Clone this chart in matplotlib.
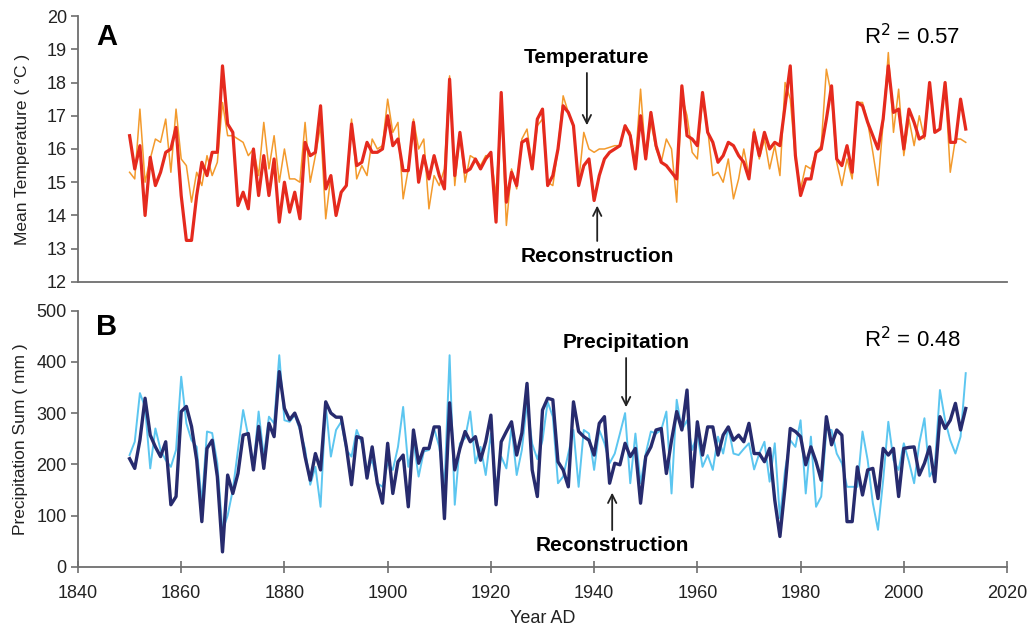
import numpy as np
import matplotlib.pyplot as plt

plt.rcParams['font.family'] = ['Liberation Sans', 'DejaVu Sans']

years = np.arange(1850, 2013)

# Panel A: mean temperature (thin) and tree-ring reconstruction (thick)
temp_obs = [
    15.3, 15.1, 17.2, 15.0, 15.7, 16.3, 16.2, 16.9, 15.3, 17.2,
    15.7, 15.5, 14.4, 15.3, 14.9, 15.8, 15.2, 15.6, 17.4, 16.4,
    16.4, 16.3, 16.2, 15.8, 16.0, 15.2, 16.8, 15.4, 16.4, 15.0,
    16.0, 15.1, 15.1, 15.0, 16.8,
    15.0, 15.8, 16.7, 13.9, 15.2, 14.0, 14.7, 14.9, 16.9, 15.1,
    15.5, 15.2, 16.3, 16.0, 16.1,
    17.5, 16.5, 16.8, 14.5, 15.4, 16.9, 16.0, 16.3, 14.2, 15.2,
    14.9, 15.4, 18.2, 14.9, 16.5, 15.0, 15.8, 15.7, 15.5, 15.8,
    15.8, 14.6, 17.4, 13.7, 15.4, 14.8, 16.3, 16.6, 15.5, 16.7,
    16.9, 15.0, 14.9, 16.0, 17.6, 17.1, 16.7, 15.0, 16.5, 16.0,
    15.9, 16.0, 16.0, 16.05, 16.1, 16.1, 16.7, 16.5, 15.6, 17.8,
    15.7, 16.8, 16.0, 15.6, 16.3, 16.0, 14.4, 17.6, 17.0, 15.9,
    15.7, 17.5, 16.6, 15.2, 15.3, 15.0, 15.7, 14.5, 15.1, 16.0,
    15.2, 16.6, 15.7, 16.3, 15.4, 16.1, 15.2, 18.0, 17.5, 15.7,
    14.8, 15.5, 15.4, 15.9, 16.1, 18.4, 17.6, 15.6, 14.9, 15.7,
    15.1, 17.4, 17.4, 16.8, 15.9, 14.9, 16.8, 18.9, 16.5, 17.8,
    15.8, 16.9, 16.1, 17.0, 16.3, 17.9, 16.5, 16.6, 18.0, 15.3,
    16.3, 16.3, 16.2,
]
temp_rec = [
    16.4, 15.4, 16.1, 14.0, 15.75, 14.9, 15.3, 15.9, 16.0, 16.65,
    14.6, 13.25, 13.25, 14.6, 15.6, 15.2, 15.9, 15.9, 18.5, 16.75,
    16.5, 14.3, 14.7, 14.2, 16.0, 14.6, 15.8, 14.6, 15.7, 13.8,
    15.0, 14.1, 14.7, 13.9, 16.2,
    15.8, 15.9, 17.3, 14.8, 15.2, 14.0, 14.7, 14.9, 16.75, 15.5,
    15.6, 16.2, 15.9, 15.9, 16.0,
    17.0, 16.1, 16.3, 15.35, 15.35, 16.8, 15.0, 15.8, 15.1, 15.8,
    15.2, 14.8, 18.1, 15.2, 16.5, 15.3, 15.4, 15.7, 15.4, 15.7,
    15.9, 13.8, 17.7, 14.4, 15.3, 14.9, 16.2, 16.3, 15.4, 16.9,
    17.2, 14.9, 15.2, 16.0, 17.3, 17.1, 16.7, 14.9, 15.5, 15.7,
    14.45, 15.2, 15.7, 15.9, 16.0, 16.1, 16.7, 16.4, 15.4, 17.0,
    15.7, 17.1, 16.1, 15.6, 15.5, 15.3, 15.1, 17.9, 16.4, 16.3,
    16.1, 17.7, 16.5, 16.2, 15.6, 15.8, 16.2, 16.1, 15.8, 15.6,
    15.1, 16.5, 15.8, 16.5, 16.0, 16.2, 16.1, 17.3, 18.5, 15.8,
    14.6, 15.1, 15.1, 15.9, 16.0, 16.9, 17.9, 15.7, 15.5, 16.1,
    15.3, 17.4, 17.3, 16.8, 16.4, 16.0, 16.9, 18.5, 17.1, 17.2,
    16.0, 17.2, 16.8, 16.3, 16.4, 18.0, 16.5, 16.6, 18.0, 16.2,
    16.2, 17.5, 16.6,
]

# Panel B: precipitation sum (thin) and reconstruction (thick)
prec_obs = [
    218, 244, 339, 312, 192, 270, 228, 208, 195, 228,
    371, 280, 247, 234, 124, 264, 261, 202, 70, 100,
    150, 228, 306, 254, 195, 303, 215, 293, 280, 413,
    286, 283, 296, 267, 230, 160, 195, 117,
    316, 215, 267, 283, 228, 215, 267, 241, 189, 208,
    163, 156, 202, 189, 234, 312, 195, 244, 176, 225,
    228, 270, 234, 156, 413, 121, 241, 251, 303, 202,
    234, 179, 260, 156, 215, 192, 273, 179, 228, 320,
    240, 210,
    247, 322, 293, 163, 176, 221, 267, 156, 267, 260,
    189, 267, 241, 202, 221, 260, 300, 163, 260, 163,
    221, 264, 260, 267, 303, 143, 326, 267, 286, 228,
    260, 195, 218, 189, 254, 221, 273, 221, 218, 230,
    241, 190, 221,
    244, 166, 241, 95, 189, 247, 234, 286, 143, 254,
    117, 137, 267, 267, 221, 202, 156, 156, 156, 264,
    208, 124, 72, 169, 283, 208, 189, 241, 205, 163,
    241, 290, 176, 195, 345, 286, 247, 221, 254, 378,
]
prec_rec = [
    211, 192, 247, 329, 257, 234, 215, 244, 121, 137,
    303, 313, 274, 208, 88, 231, 247, 176, 29, 179,
    143, 182, 257, 260, 189, 274, 192, 280, 254, 381,
    309, 287, 300, 274, 215, 169, 221, 189,
    322, 300, 292, 292, 234, 160, 254, 251, 173, 234,
    163, 124, 241, 143, 205, 218, 117, 267, 202, 231,
    231, 273, 273, 94, 320, 189, 231, 264, 244, 254,
    208, 244, 296, 121, 244, 264, 283, 218, 261, 358,
    189, 137,
    306, 329, 326, 205, 189, 156, 322, 264, 254, 247,
    218, 280, 293, 163, 202, 199, 241, 215, 231, 124,
    215, 234, 267, 270, 182, 247, 303, 267, 345, 156,
    283, 218, 273, 273, 218, 257, 273, 247, 257, 244,
    280, 221, 221,
    205, 231, 130, 59, 156, 270, 264, 254, 199, 234,
    205, 169, 293, 238, 267, 257, 88, 88, 195, 140,
    189, 192, 133, 231, 218, 231, 137, 231, 233, 234,
    179, 202, 234, 166, 293, 270, 286, 319, 267, 309,
]

xticks = np.arange(1840, 2021, 20)
axis_col = '#6e6e6e'
txt_col = '#222222'


def style_axis(ax):
    for s in ['top', 'right']:
        ax.spines[s].set_visible(False)
    for s in ['left', 'bottom']:
        ax.spines[s].set_color(axis_col)
        ax.spines[s].set_linewidth(1.3)
    ax.tick_params(axis='y', direction='out', length=5, width=1.2,
                   color=axis_col, labelsize=13, labelcolor=txt_col, pad=3)
    ax.set_xlim(1840, 2020)


fig = plt.figure(figsize=(10.3, 6.28), dpi=100)

# top panel
ax1 = fig.add_axes([0.0757, 0.551, 0.902, 0.4235])
ax1.plot(years, temp_obs, color='#F39A2C', lw=1.1, zorder=2)
ax1.plot(years, temp_rec, color='#E52A1E', lw=2.3, zorder=3)
style_axis(ax1)
ax1.set_ylim(12, 20)
ax1.set_yticks(np.arange(12, 21, 1))
ax1.set_xticks(xticks)
ax1.tick_params(axis='x', length=0, labelbottom=False)
ax1.set_ylabel('Mean Temperature ( °C )', fontsize=12.5, color=txt_col, labelpad=12)
ax1.text(1845.6, 19.37, 'A', fontsize=21, fontweight='bold', ha='center', va='center')
ax1.text(2001.6, 19.37, 'R$^2$ = 0.57', fontsize=16, ha='center', va='center')
ax1.annotate('Temperature', xy=(1938.6, 16.63), xytext=(1938.6, 18.74),
             fontsize=15, fontweight='bold', ha='center', va='center',
             arrowprops=dict(arrowstyle='->', color='#222222', lw=1.3))
ax1.annotate('Reconstruction', xy=(1940.6, 14.38), xytext=(1940.6, 12.78),
             fontsize=15, fontweight='bold', ha='center', va='center',
             arrowprops=dict(arrowstyle='->', color='#222222', lw=1.3))

# bottom panel
ax2 = fig.add_axes([0.0757, 0.0976, 0.902, 0.4077])
ax2.plot(years, prec_obs, color='#5CC6F0', lw=1.4, zorder=2)
ax2.plot(years, prec_rec, color='#272B6E', lw=2.4, zorder=3)
style_axis(ax2)
ax2.set_ylim(0, 500)
ax2.set_yticks(np.arange(0, 501, 100))
ax2.set_xticks(xticks)
ax2.tick_params(axis='x', direction='inout', length=8, width=1.2,
                color=axis_col, labelsize=13, labelcolor=txt_col, pad=9)
ax2.set_ylabel('Precipitation Sum ( mm )', fontsize=12.5, color=txt_col, labelpad=6)
ax2.set_xlabel('Year AD', fontsize=13, color=txt_col, labelpad=6)
ax2.text(1845.6, 468, 'B', fontsize=21, fontweight='bold', ha='center', va='center')
ax2.text(2001.6, 443, 'R$^2$ = 0.48', fontsize=16, ha='center', va='center')
ax2.annotate('Precipitation', xy=(1946.2, 306), xytext=(1946.2, 437),
             fontsize=15, fontweight='bold', ha='center', va='center',
             arrowprops=dict(arrowstyle='->', color='#222222', lw=1.3))
ax2.annotate('Reconstruction', xy=(1943.5, 150), xytext=(1943.5, 42),
             fontsize=15, fontweight='bold', ha='center', va='center',
             arrowprops=dict(arrowstyle='->', color='#222222', lw=1.3))

fig.savefig('out.png', dpi=100)
